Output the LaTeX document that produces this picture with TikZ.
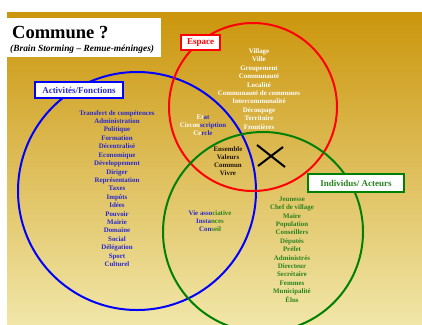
\documentclass[tikz,border=0pt]{standalone}
\usepackage{fontspec}
\setmainfont{Liberation Serif}
\definecolor{bgtop}{RGB}{203,150,12}
\definecolor{bgmid}{RGB}{224,190,96}
\definecolor{bgbot}{RGB}{241,230,168}
\definecolor{cred}{RGB}{255,0,0}
\definecolor{cblue}{RGB}{0,0,255}
\definecolor{cgreen}{RGB}{0,128,0}
\definecolor{tblue}{RGB}{40,40,205}
\definecolor{tgreen}{RGB}{40,130,30}
\definecolor{tdark}{RGB}{30,20,10}
\begin{document}
\begin{tikzpicture}[x=1pt,y=-1pt,
  ring/.style={draw, line width=2pt, circle, inner sep=0pt},
  tag/.style={draw, fill=white, line width=2.2pt, font=\fontsize{9}{10}\selectfont\bfseries, inner sep=0pt},
  list/.style={align=center, font=\fontsize{6.9}{8.42}\selectfont\bfseries, inner sep=0pt},
  cross/.style={draw=black, line width=2pt},
]
\useasboundingbox (0,0) rectangle (422,324);
\shade[top color=bgtop, middle color=bgmid, bottom color=bgbot] (7,12) rectangle (422,324);
% circles
\node[ring, draw=cblue, minimum size=238pt] (act) at (137,191) {};
\node[ring, draw=cred, minimum size=168pt] (esp) at (253,107) {};
\node[ring, draw=cgreen, minimum size=200pt] (ind) at (263,232) {};
% title
\node[fill=white, minimum width=154pt, minimum height=39pt, inner sep=0pt] (ttlbox) at (84,37.5) {};
\node[anchor=base west, font=\fontsize{18.5}{20}\selectfont\bfseries, inner sep=0pt] (ttl) at (12,38) {Commune ?};
\node[anchor=base west, font=\fontsize{9.4}{10}\selectfont\bfseries\itshape, inner sep=0pt] (sub) at (10,51) {(Brain Storming – Remue-méninges)};
% tags
\node[tag, draw=cred, text=cred, minimum width=39pt, minimum height=15pt] (espl) at (200.5,42.5) {Espace};
\node[tag, draw=cblue, text=tblue, minimum width=88pt, minimum height=16pt] (actl) at (79,90) {Activités/Fonctions};
\node[tag, draw=cgreen, text=tgreen, minimum width=96pt, minimum height=18pt] (indl) at (356,183) {Individus/ Acteurs};
% lists
\node[list, text=white] (esplist) at (259,89) {Village\\Ville\\Groupement\\Communauté\\Localité\\Communauté de communes\\Intercommunalité\\Découpage\\Territoire\\Frontières};
\node[list, text=tblue] (actlist) at (117,188.5) {Transfert de compétences\\Administration\\Politique\\Formation\\Décentralisé\\Economique\\Développement\\Diriger\\Représentation\\Taxes\\Impôts\\Idées\\Pouvoir\\Mairie\\Domaine\\Social\\Délégation\\Sport\\Culturel};
\node[list, text=tgreen] (indlist) at (292,249.5) {Jeunesse\\Chef de village\\Maire\\Population\\Conseillers\\Députés\\Préfet\\Administrés\\Directeur\\Secrétaire\\Femmes\\Municipalité\\Élus};
\node[list, font=\fontsize{6.9}{8.2}\selectfont\bfseries] (espact) at (203,125.5) {{\color{white}Et}{\color{tblue}at}\\{\color{white}Circon}{\color{tblue}scription}\\{\color{white}Ce}{\color{tblue}rcle}};
\node[list, text=tdark, font=\fontsize{6.9}{8}\selectfont\bfseries] (centre) at (228,161) {Ensemble\\Valeurs\\Commun\\Vivre};
\node[list, font=\fontsize{6.9}{8}\selectfont\bfseries] (actind) at (210,221) {{\color{tblue}Vie asso}{\color{tgreen}ciative}\\{\color{tblue}Insta}{\color{tgreen}nces}\\{\color{tblue}Con}{\color{tgreen}seil}};
% cross
\draw[cross] (257,145) -- (285,167);
\draw[cross] (258,166) -- (283,147);
\end{tikzpicture}
\end{document}
